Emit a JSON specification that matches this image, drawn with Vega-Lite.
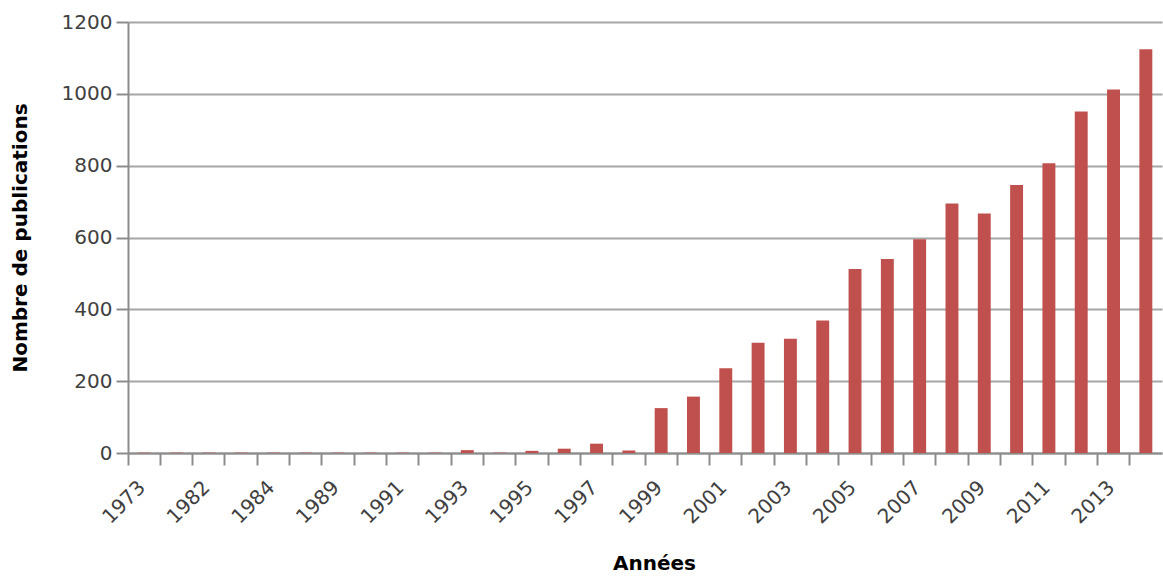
{
  "$schema": "https://vega.github.io/schema/vega-lite/v6.json",
  "autosize": "none",
  "width": 1034,
  "height": 431,
  "padding": {"left": 128, "top": 22, "right": 1, "bottom": 124},
  "background": "white",
  "config": {
    "view": {"stroke": null},
    "font": "DejaVu Sans"
  },
  "data": {
    "values": [
      {"annee": "1973", "publications": 1},
      {"annee": "1980", "publications": 1},
      {"annee": "1982", "publications": 1},
      {"annee": "1983", "publications": 1},
      {"annee": "1984", "publications": 1},
      {"annee": "1986", "publications": 1},
      {"annee": "1989", "publications": 1},
      {"annee": "1990", "publications": 1},
      {"annee": "1991", "publications": 1},
      {"annee": "1992", "publications": 1},
      {"annee": "1993", "publications": 8},
      {"annee": "1994", "publications": 1},
      {"annee": "1995", "publications": 6},
      {"annee": "1996", "publications": 12},
      {"annee": "1997", "publications": 26},
      {"annee": "1998", "publications": 7},
      {"annee": "1999", "publications": 125},
      {"annee": "2000", "publications": 157},
      {"annee": "2001", "publications": 236},
      {"annee": "2002", "publications": 307},
      {"annee": "2003", "publications": 318},
      {"annee": "2004", "publications": 369},
      {"annee": "2005", "publications": 512},
      {"annee": "2006", "publications": 540},
      {"annee": "2007", "publications": 595},
      {"annee": "2008", "publications": 695},
      {"annee": "2009", "publications": 667},
      {"annee": "2010", "publications": 746},
      {"annee": "2011", "publications": 807},
      {"annee": "2012", "publications": 951},
      {"annee": "2013", "publications": 1012},
      {"annee": "2014", "publications": 1124}
    ]
  },
  "mark": {"type": "bar", "color": "#c0504d", "width": {"band": 0.4}},
  "encoding": {
    "x": {
      "field": "annee",
      "type": "ordinal",
      "sort": null,
      "scale": {"paddingInner": 0, "paddingOuter": 0},
      "axis": {
        "title": "Années",
        "titleFontSize": 20,
        "titleFontWeight": "bold",
        "titleColor": "#000000",
        "titlePadding": 26,
        "titleX": 526,
        "bandPosition": 0,
        "labelAngle": -45,
        "labelFontSize": 20,
        "labelColor": "#404040",
        "labelOverlap": false,
        "labelPadding": 12,
        "labelOffset": -9,
        "labelExpr": "indexof(['1973','1982','1984','1989','1991','1993','1995','1997','1999','2001','2003','2005','2007','2009','2011','2013'], datum.label) >= 0 ? datum.label : ''",
        "tickSize": 12,
        "tickColor": "#8c8c8c",
        "tickWidth": 2,
        "domainColor": "#8c8c8c",
        "domainWidth": 2
      }
    },
    "y": {
      "field": "publications",
      "type": "quantitative",
      "scale": {"domain": [0, 1200], "nice": false},
      "axis": {
        "title": "Nombre de publications",
        "titleFontSize": 20,
        "titleFontWeight": "bold",
        "titleColor": "#000000",
        "titlePadding": 31,
        "values": [0, 200, 400, 600, 800, 1000, 1200],
        "format": "d",
        "labelFontSize": 20,
        "labelColor": "#404040",
        "labelPadding": 4,
        "tickSize": 12,
        "tickColor": "#8c8c8c",
        "tickWidth": 2,
        "domainColor": "#8c8c8c",
        "domainWidth": 2,
        "gridColor": "#a6a6a6",
        "gridWidth": 2
      }
    }
  }
}
